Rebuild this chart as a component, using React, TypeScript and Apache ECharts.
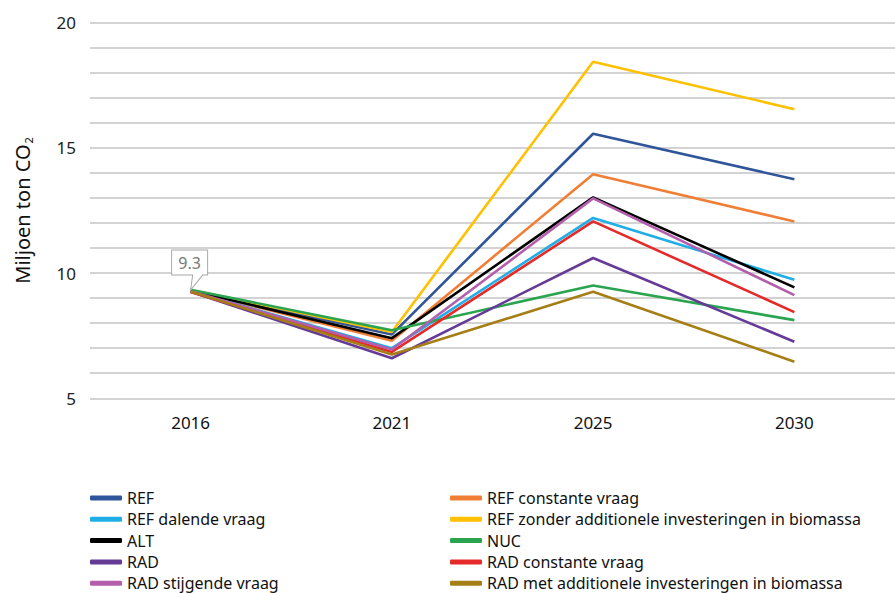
import React, { useEffect, useRef } from "react";
import * as echarts from "echarts";

const years = ["2016", "2021", "2025", "2030"];
const seriesNames = [
  "REF",
  "REF constante vraag",
  "REF dalende vraag",
  "REF zonder additionele investeringen in biomassa",
  "ALT",
  "NUC",
  "RAD",
  "RAD constante vraag",
  "RAD stijgende vraag",
  "RAD met additionele investeringen in biomassa",
];
const REF = [9.3, 7.55, 15.56, 13.74];
const REF_CONST = [9.3, 7.3, 13.94, 12.06];
const REF_DAL = [9.28, 7.0, 12.2, 9.73];
const REF_ZONDER = [9.32, 7.65, 18.43, 16.54];
const ALT = [9.3, 7.4, 13.02, 9.43];
const NUC = [9.33, 7.72, 9.5, 8.12];
const RAD = [9.25, 6.6, 10.6, 7.26];
const RAD_CONST = [9.24, 6.85, 12.06, 8.44];
const RAD_STIJG = [9.27, 6.95, 12.98, 9.12];
const RAD_MET = [9.26, 6.75, 9.25, 6.46];
const values = [REF, REF_CONST, REF_DAL, REF_ZONDER, ALT, NUC, RAD, RAD_CONST, RAD_STIJG, RAD_MET];
const colors = [
  "#30559a",
  "#f07f35",
  "#20aee6",
  "#ffc000",
  "#000000",
  "#2ba450",
  "#663b97",
  "#e52a2a",
  "#b45fab",
  "#a57e16",
];
const yTicks = [5, 10, 15, 20];
const calloutText = "9.3";

const FONT = "Noto Sans";

export default function App() {
  const ref = useRef<HTMLDivElement>(null);
  useEffect(() => {
    if (!ref.current) return;
    const chart = echarts.init(ref.current, null, { renderer: "svg" });
    const series: any[] = seriesNames.map((name, i) => {
      const s: any = {
        name,
        type: "line",
        data: values[i],
        showSymbol: false,
        symbol: "none",
        lineStyle: { color: colors[i], width: 2.6 },
        itemStyle: { color: colors[i] },
        z: 2,
      };
      if (i === 3) {
        s.markPoint = {
          symbol: "path://M0,0 L36,0 L36,25 L31,25 L19,40 L21,25 L0,25 Z",
          symbolSize: [36, 40],
          symbolOffset: [-1, -20],
          itemStyle: { color: "#ffffff", borderColor: "#a6a6a6", borderWidth: 1 },
          label: {
            show: true,
            formatter: calloutText,
            color: "#777777",
            fontFamily: FONT,
            fontSize: 16,
            offset: [0, -7],
          },
          data: [{ coord: [years[0], REF_ZONDER[0]] }],
          z: 5,
        };
      }
      return s;
    });
    const legendCommon = {
      orient: "vertical",
      top: 490,
      height: 120,
      padding: 0,
      icon: "roundRect",
      itemWidth: 32,
      itemHeight: 5,
      itemGap: 5.3,
      textStyle: { fontFamily: FONT, fontSize: 16, color: "#111", lineHeight: 16 },
    };
    chart.setOption({
      animation: false,
      color: colors,
      textStyle: { fontFamily: FONT },
      grid: { left: 90, right: -8, top: 22.5, bottom: 194.7 },
      legend: [
        { ...legendCommon, left: 90, data: [seriesNames[0], seriesNames[2], seriesNames[4], seriesNames[6], seriesNames[8]] },
        { ...legendCommon, left: 450, data: [seriesNames[1], seriesNames[3], seriesNames[5], seriesNames[7], seriesNames[9]] },
      ],
      xAxis: {
        type: "category",
        data: years,
        boundaryGap: true,
        axisLine: { show: false },
        axisTick: { show: false },
        axisLabel: { fontFamily: FONT, fontSize: 17, color: "#111", margin: 16 },
      },
      yAxis: {
        type: "value",
        min: 5,
        max: 20,
        interval: 1,
        name: "Miljoen ton CO{sub|2}",
        nameLocation: "middle",
        nameGap: 56,
        nameTextStyle: {
          fontFamily: FONT,
          fontSize: 20,
          color: "#111",
          rich: { sub: { fontSize: 11, color: "#111", fontFamily: FONT, padding: [12, 0, 0, 1] } },
        },
        axisLine: { show: false },
        axisTick: { show: false },
        axisLabel: {
          fontFamily: FONT,
          fontSize: 17,
          color: "#222",
          margin: 14,
          formatter: (v: number) => (yTicks.includes(v) ? String(v) : ""),
        },
        splitLine: { lineStyle: { color: "#c4c4c4", width: 1.6 } },
      },
      series,
    });
    return () => chart.dispose();
  }, []);
  return (
    <div
      ref={ref}
      style={{ position: "fixed", left: 0, top: 0, width: 895, height: 593, background: "#fff" }}
    />
  );
}
